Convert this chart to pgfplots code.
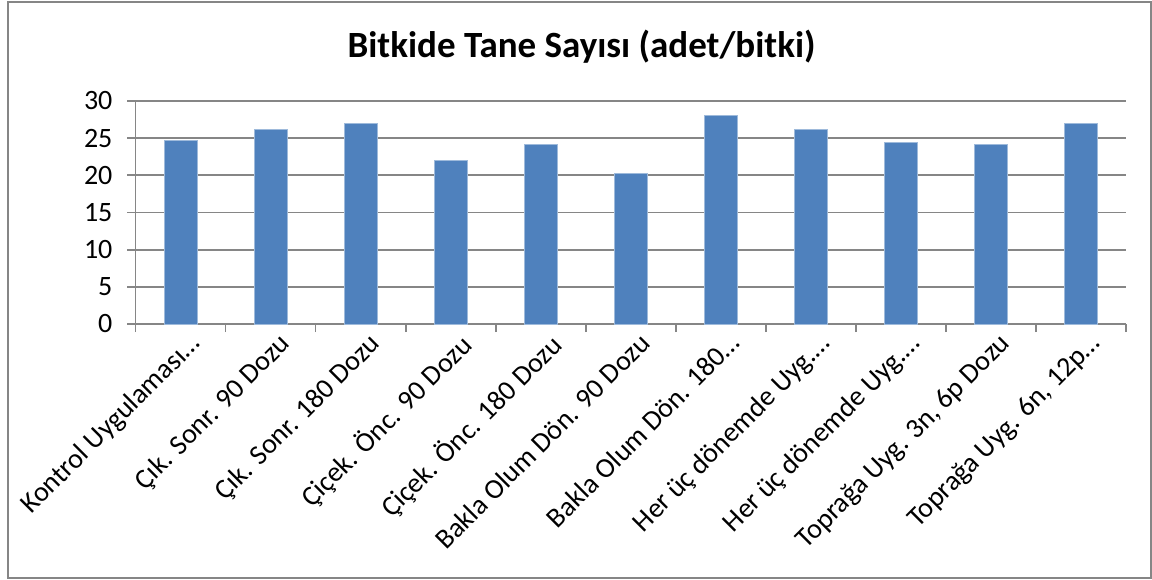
\documentclass[border=0pt]{standalone}
\usepackage{fontspec}
\setmainfont{Carlito}
\usepackage{pgfplots}
\pgfplotsset{compat=1.18}
\definecolor{barblue}{HTML}{4F81BD}
\definecolor{axgray}{HTML}{868686}
\begin{document}
\begin{tikzpicture}
\useasboundingbox (0,0) rectangle (576pt,289.5pt);
\draw[axgray, line width=1pt] (3.9pt,0.75pt) rectangle (575.25pt,288.5pt);
\node[font=\fontsize{18.5pt}{22pt}\selectfont\bfseries] at (290.75pt,266pt) {Bitkide Tane Sayısı (adet/bitki)};
\begin{axis}[
  at={(67.75pt,127.5pt)}, anchor=south west,
  width=495.25pt, height=111.5pt, scale only axis,
  xmin=-0.5, xmax=10.5, ymin=0, ymax=30,
  ytick={0,5,...,30},
  xtick={-0.5,0.5,1.5,2.5,3.5,4.5,5.5,6.5,7.5,8.5,9.5,10.5},
  xticklabels={Kontrol Uygulaması…,Çık. Sonr. 90 Dozu,Çık. Sonr. 180 Dozu,Çiçek. Önc. 90 Dozu,Çiçek. Önc. 180 Dozu,Bakla Olum Dön. 90 Dozu,Bakla Olum Dön. 180…,Her üç dönemde Uyg.…,Her üç dönemde Uyg.…,Toprağa Uyg. 3n{,} 6p Dozu,Toprağa Uyg. 6n{,} 12p…,{}},
  axis lines*=left,
  tick align=outside, major tick length=4pt,
  ymajorgrids, grid style={axgray, line width=0.9pt},
  axis line style={axgray, line width=0.9pt},
  tick style={axgray, line width=0.9pt},
  ybar, bar width=16.5pt,
  xticklabel style={xshift=26pt, yshift=2pt, rotate=45, anchor=north east, font=\fontsize{14pt}{16pt}\selectfont, inner sep=1pt},
  yticklabel style={xshift=-4pt, font=\fontsize{14pt}{16pt}\selectfont},
  /pgf/number format/assume math mode=true,
]
\addplot[fill=barblue, draw=barblue!55!white, line width=0.4pt] coordinates {
(0,24.7) (1,26.13) (2,27.03) (3,21.96) (4,24.11) (5,20.2) (6,28.06) (7,26.13) (8,24.43) (9,24.11) (10,27.03)};
\end{axis}
\end{tikzpicture}
\end{document}
